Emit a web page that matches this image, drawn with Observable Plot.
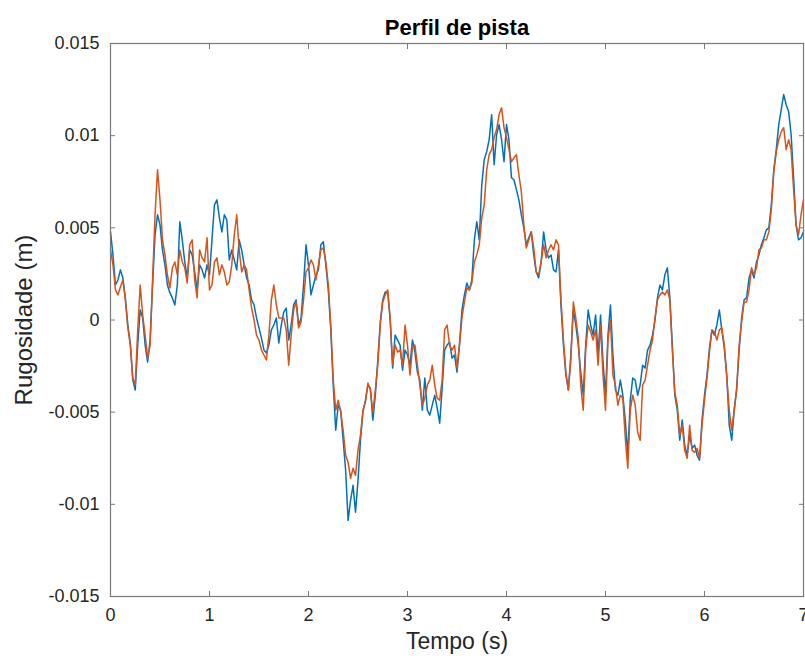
<!DOCTYPE html>
<html>
<head>
<meta charset="utf-8">
<script src="https://cdn.jsdelivr.net/npm/d3@7"></script>
<script src="https://cdn.jsdelivr.net/npm/@observablehq/plot@0.6"></script>
<style>
  body { margin: 0; background: #fff; }
  #chart svg { display: block; }
</style>
</head>
<body>
<div id="chart"></div>
<script>
// Road roughness profile sampled every 25 ms over 7 s (metres)
const sampleStart = 0;
const sampleStep = 0.025;

// First profile (blue)
const perfilA = [
  0.00478, 0.00353, 0.00190, 0.00217, 0.00272, 0.00228, 0.00120, -0.00027, -0.00125, -0.00326,
  -0.00380, -0.00136, 0.00054, 0.00011, -0.00136, -0.00228, -0.00109, 0.00190, 0.00462, 0.00571,
  0.00516, 0.00380, 0.00299, 0.00190, 0.00147, 0.00120, 0.00082, 0.00190, 0.00533, 0.00435,
  0.00315, 0.00228, 0.00380, 0.00353, 0.00261, 0.00163, 0.00299, 0.00272, 0.00228, 0.00299,
  0.00245, 0.00435, 0.00625, 0.00652, 0.00554, 0.00478, 0.00571, 0.00543, 0.00326, 0.00380,
  0.00326, 0.00272, 0.00435, 0.00380, 0.00299, 0.00228, 0.00190, 0.00109, 0.00082, 0.00011,
  -0.00043, -0.00098, -0.00163, -0.00179, -0.00136, -0.00054, -0.00027, 0.00011, -0.00125, -0.00027,
  0.00043, 0.00065, -0.00109, -0.00027, 0.00082, 0.00109, -0.00027, 0.00011, 0.00190, 0.00408,
  0.00299, 0.00136, 0.00190, 0.00245, 0.00272, 0.00408, 0.00424, 0.00299, 0.00163, -0.00054,
  -0.00353, -0.00598, -0.00462, -0.00489, -0.00652, -0.00815, -0.01087, -0.00978, -0.00897, -0.01043,
  -0.00870, -0.00652, -0.00500, -0.00435, -0.00353, -0.00370, -0.00543, -0.00408, -0.00217, -0.00011,
  0.00109, 0.00152, 0.00152, 0.00000, -0.00261, -0.00082, -0.00109, -0.00136, -0.00272, -0.00163,
  -0.00190, -0.00245, -0.00109, -0.00174, -0.00283, -0.00326, -0.00489, -0.00315, -0.00489, -0.00516,
  -0.00462, -0.00408, -0.00478, -0.00560, -0.00370, -0.00163, -0.00136, -0.00120, -0.00207, -0.00190,
  -0.00283, -0.00136, 0.00054, 0.00136, 0.00201, 0.00163, 0.00217, 0.00435, 0.00533, 0.00435,
  0.00734, 0.00870, 0.00913, 0.00978, 0.01114, 0.00842, 0.01005, 0.01060, 0.00978, 0.00859,
  0.01060, 0.00978, 0.00772, 0.00761, 0.00707, 0.00652, 0.00571, 0.00500, 0.00408, 0.00446,
  0.00478, 0.00353, 0.00261, 0.00228, 0.00315, 0.00478, 0.00380, 0.00337, 0.00353, 0.00272,
  0.00261, 0.00380, 0.00082, -0.00136, -0.00299, -0.00380, -0.00190, 0.00054, -0.00027, -0.00136,
  -0.00283, -0.00408, -0.00136, 0.00054, -0.00027, -0.00082, 0.00027, -0.00190, 0.00027, -0.00228,
  -0.00408, -0.00082, 0.00082, -0.00190, -0.00380, -0.00408, -0.00326, -0.00408, -0.00543, -0.00734,
  -0.00435, -0.00315, -0.00326, -0.00408, -0.00353, -0.00245, -0.00261, -0.00163, -0.00136, -0.00082,
  0.00000, 0.00120, 0.00190, 0.00163, 0.00245, 0.00283, 0.00120, -0.00136, -0.00408, -0.00489,
  -0.00652, -0.00543, -0.00679, -0.00734, -0.00625, -0.00696, -0.00679, -0.00734, -0.00761, -0.00543,
  -0.00408, -0.00299, -0.00152, -0.00054, -0.00082, -0.00027, 0.00054, -0.00054, -0.00152, -0.00299,
  -0.00571, -0.00652, -0.00489, -0.00370, -0.00163, 0.00011, 0.00109, 0.00120, 0.00228, 0.00272,
  0.00228, 0.00315, 0.00353, 0.00408, 0.00446, 0.00489, 0.00500, 0.00625, 0.00815, 0.00924,
  0.01060, 0.01141, 0.01223, 0.01168, 0.01130, 0.01005, 0.00772, 0.00516, 0.00435, 0.00446, 0.00478
];

// Second profile (orange)
const perfilB = [
  0.00380, 0.00299, 0.00163, 0.00136, 0.00179, 0.00217, 0.00109, -0.00043, -0.00136, -0.00315,
  -0.00353, -0.00054, 0.00190, 0.00027, -0.00082, -0.00207, -0.00136, 0.00217, 0.00571, 0.00815,
  0.00652, 0.00435, 0.00353, 0.00245, 0.00174, 0.00283, 0.00315, 0.00245, 0.00380, 0.00315,
  0.00283, 0.00201, 0.00408, 0.00435, 0.00217, 0.00120, 0.00380, 0.00337, 0.00315, 0.00446,
  0.00163, 0.00190, 0.00315, 0.00337, 0.00245, 0.00299, 0.00261, 0.00190, 0.00207, 0.00299,
  0.00462, 0.00571, 0.00380, 0.00261, 0.00299, 0.00272, 0.00163, 0.00065, 0.00000, -0.00082,
  -0.00109, -0.00163, -0.00190, -0.00217, -0.00082, 0.00109, 0.00190, 0.00082, 0.00011, 0.00011,
  0.00011, -0.00054, -0.00245, -0.00082, 0.00054, 0.00098, -0.00043, -0.00011, 0.00109, 0.00261,
  0.00283, 0.00326, 0.00299, 0.00217, 0.00299, 0.00380, 0.00391, 0.00315, 0.00190, -0.00027,
  -0.00326, -0.00489, -0.00435, -0.00500, -0.00598, -0.00734, -0.00772, -0.00859, -0.00804, -0.00842,
  -0.00707, -0.00625, -0.00489, -0.00446, -0.00342, -0.00380, -0.00500, -0.00380, -0.00245, -0.00027,
  0.00098, 0.00136, 0.00163, 0.00011, -0.00245, -0.00136, -0.00174, -0.00163, -0.00245, -0.00027,
  -0.00136, -0.00299, -0.00152, -0.00136, -0.00245, -0.00353, -0.00462, -0.00424, -0.00353, -0.00326,
  -0.00245, -0.00353, -0.00424, -0.00435, -0.00326, -0.00054, -0.00027, -0.00136, -0.00163, -0.00136,
  -0.00261, -0.00136, 0.00011, 0.00098, 0.00174, 0.00163, 0.00201, 0.00315, 0.00353, 0.00408,
  0.00554, 0.00625, 0.00815, 0.00897, 0.00924, 0.00989, 0.01033, 0.01114, 0.01152, 0.01043,
  0.00989, 0.00924, 0.00859, 0.00880, 0.00897, 0.00788, 0.00696, 0.00516, 0.00391, 0.00435,
  0.00478, 0.00391, 0.00261, 0.00245, 0.00315, 0.00408, 0.00337, 0.00380, 0.00408, 0.00380,
  0.00435, 0.00408, 0.00109, -0.00109, -0.00283, -0.00380, -0.00217, 0.00098, 0.00011, -0.00098,
  -0.00353, -0.00489, -0.00163, -0.00027, -0.00065, -0.00109, -0.00054, -0.00245, -0.00027, -0.00299,
  -0.00489, -0.00109, 0.00000, -0.00299, -0.00353, -0.00462, -0.00408, -0.00424, -0.00641, -0.00804,
  -0.00489, -0.00408, -0.00462, -0.00609, -0.00652, -0.00353, -0.00326, -0.00245, -0.00163, -0.00109,
  0.00011, 0.00109, 0.00136, 0.00152, 0.00136, 0.00163, 0.00109, -0.00163, -0.00391, -0.00462,
  -0.00625, -0.00571, -0.00707, -0.00750, -0.00571, -0.00707, -0.00717, -0.00696, -0.00750, -0.00571,
  -0.00435, -0.00315, -0.00174, -0.00054, -0.00065, -0.00109, -0.00054, -0.00043, -0.00136, -0.00315,
  -0.00489, -0.00598, -0.00489, -0.00380, -0.00136, -0.00011, 0.00098, 0.00098, 0.00163, 0.00283,
  0.00245, 0.00283, 0.00380, 0.00391, 0.00435, 0.00435, 0.00478, 0.00598, 0.00804, 0.00913,
  0.00978, 0.01022, 0.01043, 0.00924, 0.00978, 0.00924, 0.00707, 0.00516, 0.00462, 0.00571, 0.00652
];

const xTicks = [0, 1, 2, 3, 4, 5, 6, 7];
const yTicks = [-0.015, -0.01, -0.005, 0, 0.005, 0.01, 0.015];

const titulo = "Perfil de pista";
const rotuloX = "Tempo (s)";
const rotuloY = "Rugosidade (m)";

const corA = "#0072BD";
const corB = "#D95319";
const corEixo = "#262626";
const corCaixa = "#7a7a7a";

const toRows = (values) => values.map((v, i) => ({t: sampleStart + i * sampleStep, v}));
const rowsA = toRows(perfilA);
const rowsB = toRows(perfilB);

const chart = Plot.plot({
  width: 805,
  height: 662,
  marginTop: 43,
  marginBottom: 66,
  marginLeft: 110,
  marginRight: 2,
  style: {fontFamily: "'Liberation Sans', Arial, Helvetica, sans-serif", background: "#fff"},
  x: {domain: [0, 7]},
  y: {domain: [-0.015, 0.015]},
  marks: [
    Plot.line(rowsA, {x: "t", y: "v", stroke: corA, strokeWidth: 1.5}),
    Plot.line(rowsB, {x: "t", y: "v", stroke: corB, strokeWidth: 1.5}),
    Plot.frame({stroke: corCaixa, strokeWidth: 1.2}),
    Plot.axisX(xTicks, {anchor: "bottom", tickSize: -5, tickPadding: 17, tickFormat: d => String(d),
      fontSize: 18, color: corEixo, stroke: corCaixa, label: null}),
    Plot.axisX(xTicks, {anchor: "top", tickSize: -5, tickFormat: () => "", stroke: corCaixa, label: null}),
    Plot.axisY(yTicks, {anchor: "left", tickSize: -5, tickPadding: 16, tickFormat: d => String(d),
      fontSize: 18, color: corEixo, stroke: corCaixa, label: null}),
    Plot.axisY(yTicks, {anchor: "right", tickSize: -5, tickFormat: () => "", stroke: corCaixa, label: null}),
    Plot.text([titulo], {text: d => d, frameAnchor: "top", dy: -16, lineAnchor: "middle",
      fontSize: 22, fontWeight: "bold", fill: "#000"}),
    Plot.text([rotuloX], {text: d => d, frameAnchor: "bottom", dy: 45, lineAnchor: "middle",
      fontSize: 23, fill: corEixo}),
    Plot.text([rotuloY], {text: d => d, frameAnchor: "left", dx: -86, rotate: -90,
      textAnchor: "middle", lineAnchor: "middle", fontSize: 24, fill: corEixo})
  ]
});

document.getElementById("chart").append(chart);
</script>
</body>
</html>
